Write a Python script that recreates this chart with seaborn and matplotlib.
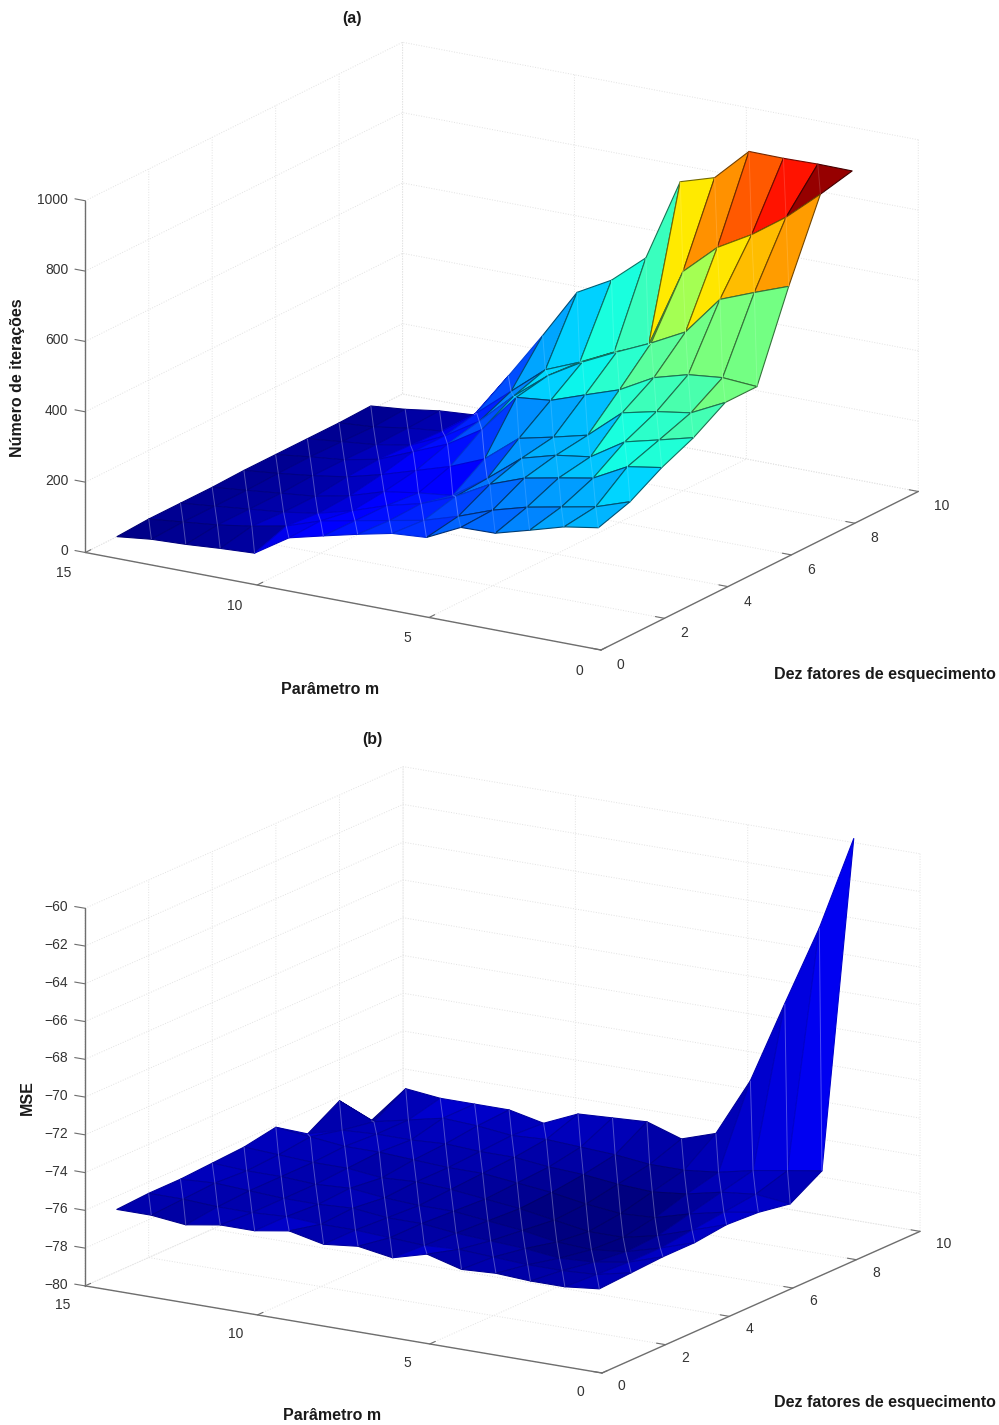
import numpy as np
import matplotlib
matplotlib.use('Agg')
import matplotlib.pyplot as plt
import seaborn as sns
from mpl_toolkits.mplot3d import proj3d
from mpl_toolkits.mplot3d.art3d import Line3DCollection

# rows are the forgetting factors 1..9, columns are m = 1..15
factors = [1, 2, 3, 4, 5, 6, 7, 8, 9]
m_values = [1, 2, 3, 4, 5, 6, 7, 8, 9, 10, 11, 12, 13, 14, 15]

iterations = [
    [284, 268, 240, 213, 211, 164, 157, 136, 113, 89, 27, 22, 15, 11, 0],
    [313, 280, 261, 242, 215, 179, 149, 130, 111, 92, 59, 40, 25, 15, 5],
    [365, 349, 298, 280, 261, 225, 172, 133, 109, 76, 50, 35, 25, 15, 5],
    [405, 380, 356, 295, 281, 254, 178, 111, 100, 85, 55, 35, 25, 15, 5],
    [460, 412, 397, 375, 293, 269, 247, 170, 130, 100, 70, 45, 30, 18, 8],
    [460, 467, 457, 430, 377, 344, 310, 300, 190, 130, 90, 50, 30, 20, 8],
    [700, 664, 626, 515, 465, 421, 374, 317, 240, 150, 90, 45, 28, 18, 8],
    [917, 833, 765, 710, 623, 395, 357, 310, 270, 190, 110, 40, 30, 15, 8],
    [938, 939, 937, 938, 845, 815, 580, 498, 445, 304, 170, 41, 34, 20, 11],
]

mse = [
    [-76.6, -76.8, -76.8, -76.7, -76.8, -76.3, -76.8, -76.5, -76.7, -76.3, -76.6, -76.6, -76.9, -76.7, -76.7],
    [-76.5, -76.9, -77.0, -77.0, -76.9, -76.8, -76.9, -76.8, -76.7, -76.7, -76.6, -76.7, -76.7, -76.6, -76.6],
    [-76.4, -77.0, -77.3, -77.4, -77.2, -77.1, -77.0, -76.8, -76.8, -76.6, -76.7, -76.7, -76.6, -76.5, -76.6],
    [-76.4, -77.0, -77.5, -77.7, -77.6, -77.3, -77.1, -76.9, -76.9, -76.8, -76.6, -76.7, -76.6, -76.6, -76.5],
    [-76.2, -76.8, -77.4, -77.8, -77.8, -77.5, -77.2, -77.0, -76.8, -76.7, -76.8, -76.6, -76.6, -76.5, -76.4],
    [-76.3, -76.6, -77.0, -77.5, -77.6, -77.4, -77.1, -76.9, -76.7, -76.7, -76.6, -76.5, -76.5, -76.3, -76.1],
    [-76.6, -76.4, -76.6, -77.0, -77.2, -77.1, -76.9, -76.8, -76.6, -76.6, -76.5, -76.6, -76.6, -76.7, -77.2],
    [-75.6, -75.9, -76.2, -76.6, -76.8, -76.8, -76.6, -76.5, -76.4, -76.5, -76.3, -76.2, -76.6, -77.0, -76.2],
    [-58.75, -63.8, -68.1, -72.5, -75.6, -76.2, -75.6, -75.7, -75.8, -76.6, -76.2, -76.2, -76.2, -76.0, -78.0],
]

factor_ticks = [0, 2, 4, 6, 8, 10]
m_ticks = [0, 5, 10, 15]
iter_ticks = [0, 200, 400, 600, 800, 1000]
mse_ticks = [-80, -78, -76, -74, -72, -70, -68, -66, -64, -62, -60]

W, H = 999, 1425

sns.set_theme(style='white')
plt.rcParams['font.family'] = ['Liberation Sans', 'DejaVu Sans']
plt.rcParams['axes3d.automargin'] = False

fig = plt.figure(figsize=(W / 100, H / 100), dpi=100)
jet = plt.get_cmap('jet')

tick_style = dict(fontsize=10, color='#333333')
label_style = dict(fontsize=11.5, fontweight='bold', color='#1a1a1a', ha='center', va='center')


def to_px(ax, f, m, z):
    ax.apply_aspect()
    x, y, _ = proj3d.proj_transform(f, m, z, ax.get_proj())
    return ax.transData.transform((x, y))


def px_text(x, y, s, **kw):
    fig.text(x / W, 1 - y / H, s, **kw)


def fit_axes(ax, zmin, origin, f_end, m_end):
    # move and scale the axes so the box corners land on the wanted pixels
    span = to_px(ax, 10, 0, zmin)[0] - to_px(ax, 0, 15, zmin)[0]
    scale = (f_end[0] - m_end[0]) / span
    pos = ax.get_position()
    side = pos.width * W * scale
    ax.set_position([pos.x0, pos.y0, side / W, side / H])
    p = to_px(ax, 0, 0, zmin)
    pos = ax.get_position()
    dx = origin[0] - p[0]
    dy = (H - origin[1]) - p[1]
    ax.set_position([pos.x0 + dx / W, pos.y0 + dy / H, pos.width, pos.height])


def draw_panel(values, zticks, zmin, zmax, elev, z_height, origin, f_end, m_end,
               color_range, dark_below, label_dy):
    ax = fig.add_axes([0.1, 0.1, 0.5, 0.5 * W / H], projection='3d', proj_type='ortho')
    ax.computed_zorder = False
    ax.patch.set_alpha(0)

    Z = np.array(values, dtype=float)
    F, M = np.meshgrid(factors, m_values, indexing='ij')
    norm = plt.Normalize(*color_range)
    faces = jet(norm(Z))

    surf = ax.plot_surface(F, M, Z, rstride=1, cstride=1, facecolors=faces, shade=False,
                           linewidth=0.8, antialiased=True, zorder=1)
    edges = []
    seams = []
    seam_colors = []
    for i in range(Z.shape[0] - 1):
        for j in range(Z.shape[1] - 1):
            col = np.array(faces[i, j])
            bright = Z[i, j] > dark_below
            edge = col.copy()
            edge[:3] = col[:3] * (0.45 if bright else 0.85)
            edges.append(edge)
            # each facet shows a pale seam along its diagonal
            seams.append([(F[i, j], M[i, j], Z[i, j]), (F[i + 1, j + 1], M[i + 1, j + 1], Z[i + 1, j + 1])])
            pale = col.copy()
            pale[:3] = col[:3] + (0.15 if bright else 0.3) * (1 - col[:3])
            seam_colors.append(pale)
    surf.set_edgecolors(edges)
    ax.add_collection3d(Line3DCollection(seams, colors=seam_colors, linewidths=0.7, zorder=2))

    ax.set_xlim(0, 10, view_margin=0)
    ax.set_ylim(0, 15, view_margin=0)
    ax.set_zlim(zmin, zmax, view_margin=0)
    ax.set_xticks(factor_ticks)
    ax.set_yticks(m_ticks)
    ax.set_zticks(zticks)
    ax.set_xticklabels([])
    ax.set_yticklabels([])
    ax.set_zticklabels([])
    ax.view_init(elev=elev, azim=-148.4)
    ax.set_box_aspect((606, 606, z_height / np.cos(np.radians(elev))))

    for axis in (ax.xaxis, ax.yaxis, ax.zaxis):
        axis.set_pane_color((1, 1, 1, 0))
        axis.line.set_color('#6e6e6e')
        axis.line.set_linewidth(1.0)
        axis._axinfo['grid'].update(color='#e2e2e2', linestyle=':', linewidth=0.7)
        axis._axinfo['tick'].update(color='#6e6e6e', linewidth={True: 0.8, False: 0.5},
                                    inward_factor=0, outward_factor=0.22)
    ax.zaxis._axinfo['tick'].update(inward_factor=0, outward_factor=0)
    ax.tick_params(color='#6e6e6e')

    fit_axes(ax, zmin, origin, f_end, m_end)

    # tick labels, and the z ticks which point along the m direction here
    for t in factor_ticks:
        x, y = to_px(ax, t, 0, zmin)
        px_text(x + 16, H - y + 12 + label_dy, str(t), ha='left', va='center', **tick_style)
    for t in m_ticks:
        x, y = to_px(ax, 0, t, zmin)
        px_text(x - 22, H - y + 18 + label_dy, str(t), ha='center', va='center', **tick_style)
    for t in zticks:
        ax.plot([0, 0], [15, 15.3], [t, t], color='#6e6e6e', lw=0.8, zorder=3)
        x, y = to_px(ax, 0, 15, t)
        px_text(x - 17, H - y - 1, str(t).replace('-', '\u2212'), ha='right', va='center', **tick_style)
    return ax


ax_a = draw_panel(iterations, iter_ticks, 0, 1000, 17.9, 352,
                  (601, 650), (918, 492), (85, 553), (0, 939), 200, 3)
ax_b = draw_panel(mse, mse_ticks, -80, -60, 15.9, 377,
                  (602, 1373), (920, 1231), (85, 1287), (-77.5, -58.75), -50, 1)

px_text(352, 18, '(a)', **label_style)
px_text(330, 690, 'Parâmetro m', **label_style)
px_text(885, 674, 'Dez fatores de esquecimento', **label_style)
px_text(18, 378, 'Número de iterações', rotation=90, **label_style)

px_text(372, 740, '(b)', **label_style)
px_text(332, 1416, 'Parâmetro m', **label_style)
px_text(885, 1403, 'Dez fatores de esquecimento', **label_style)
px_text(27, 1098, 'MSE', rotation=90, **label_style)

fig.savefig('out.png', dpi=100)
